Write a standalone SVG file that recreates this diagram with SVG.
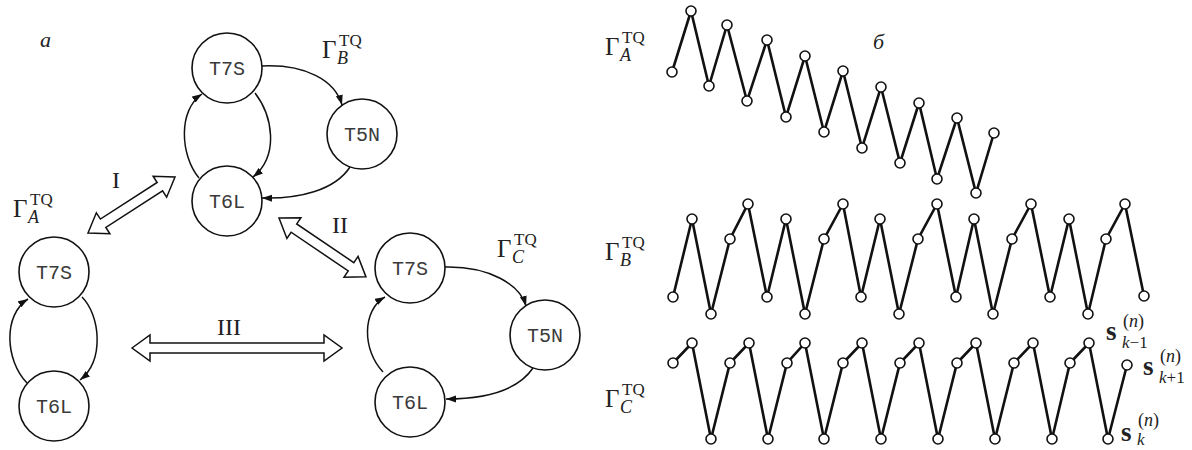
<svg xmlns="http://www.w3.org/2000/svg" width="1192" height="450" viewBox="0 0 1192 450">
<style>
.node circle{fill:#fff;stroke:#111;stroke-width:1.6}
.node text{font-family:"Liberation Mono","DejaVu Sans Mono",monospace;font-size:20px;fill:#3a3a3a;text-anchor:middle}
.edge{fill:none;stroke:#111;stroke-width:1.5;marker-end:url(#ah)}
.dbl{fill:#fff;stroke:#111;stroke-width:1.5;stroke-linejoin:miter}
.lbl{font-family:"Liberation Serif",serif;fill:#222}
.G{font-size:25px}
.sp{font-size:17px}
.sb{font-size:18px;font-style:italic}
.rn{font-family:"Liberation Serif",serif;font-size:24px;fill:#222}
.zz{fill:none;stroke:#111;stroke-width:2.6;stroke-linejoin:miter}
.pt circle{fill:#fff;stroke:#111;stroke-width:1.6}
.sv{font-family:"Liberation Serif",serif;fill:#222}
.sb2{font-size:27px;font-weight:bold}
.ss{font-size:17px}
.sn{font-size:18px}
</style>
<defs>
<marker id="ah" markerWidth="11" markerHeight="8" refX="10" refY="3.5" orient="auto" markerUnits="userSpaceOnUse">
<path d="M0,0 L10,3.5 L0,7 z" fill="#111"/>
</marker>
</defs>

<text class="lbl" x="40" y="47" font-size="22" font-style="italic">a</text>
<text class="lbl" x="873" y="49" font-size="22" font-style="italic">б</text>

<!-- Graph labels -->
<text class="lbl"><tspan class="G" x="322" y="58">Γ</tspan><tspan class="sp" x="339" y="46">TQ</tspan><tspan class="sb" x="337" y="64">B</tspan></text>
<text class="lbl"><tspan class="G" x="13" y="217">Γ</tspan><tspan class="sp" x="30" y="205">TQ</tspan><tspan class="sb" x="28" y="223">A</tspan></text>
<text class="lbl"><tspan class="G" x="497" y="257">Γ</tspan><tspan class="sp" x="514" y="245">TQ</tspan><tspan class="sb" x="512" y="263">C</tspan></text>

<text class="lbl"><tspan class="G" x="605" y="55">Γ</tspan><tspan class="sp" x="622" y="43">TQ</tspan><tspan class="sb" x="620" y="61">A</tspan></text>
<text class="lbl"><tspan class="G" x="605" y="260">Γ</tspan><tspan class="sp" x="622" y="248">TQ</tspan><tspan class="sb" x="620" y="266">B</tspan></text>
<text class="lbl"><tspan class="G" x="605" y="407">Γ</tspan><tspan class="sp" x="622" y="395">TQ</tspan><tspan class="sb" x="620" y="413">C</tspan></text>

<!-- Roman numerals -->
<text class="rn" x="112" y="188">I</text>
<text class="rn" x="332" y="233">II</text>
<text class="rn" x="217" y="335">III</text>

<!-- Nodes: graph B -->
<g id="B_T7S" class="node"><circle cx="227" cy="68" r="35"/><text x="227" y="75">T7S</text></g>
<g id="B_T5N" class="node"><circle cx="362" cy="134" r="35"/><text x="362" y="141">T5N</text></g>
<g id="B_T6L" class="node"><circle cx="227" cy="201" r="35"/><text x="227" y="208">T6L</text></g>
<!-- Nodes: graph A -->
<g id="A_T7S" class="node"><circle cx="54" cy="272" r="35"/><text x="54" y="279">T7S</text></g>
<g id="A_T6L" class="node"><circle cx="54" cy="406" r="35"/><text x="54" y="413">T6L</text></g>
<!-- Nodes: graph C -->
<g id="C_T7S" class="node"><circle cx="410" cy="268" r="35"/><text x="410" y="275">T7S</text></g>
<g id="C_T5N" class="node"><circle cx="545" cy="335" r="35"/><text x="545" y="342">T5N</text></g>
<g id="C_T6L" class="node"><circle cx="410" cy="402" r="35"/><text x="410" y="409">T6L</text></g>

<g id="connectors">
<path class="edge" d="M262,66 C305,64 335,80 342,105"/>
<path class="edge" d="M350,167 C335,190 300,199 262,198"/>
<path class="edge" d="M255,93 C272,115 280,155 253,177"/>
<path class="edge" d="M199,178 C180,155 178,110 202,94"/>

<path class="edge" d="M82,297 C100,315 105,360 80,380"/>
<path class="edge" d="M27,383 C5,360 3,315 28,299"/>

<path class="edge" d="M445,267 C490,266 520,285 526,306"/>
<path class="edge" d="M533,368 C518,390 485,399 446,399"/>
<path class="edge" d="M383,372 C362,350 362,310 385,297"/>

<polygon class="dbl" transform="translate(88,233) rotate(-32.8)" points="0,0 18,-12.5 18,-5 85.5,-5 85.5,-12.5 103.5,0 85.5,12.5 85.5,5 18,5 18,12.5"/>
<polygon class="dbl" transform="translate(279,218) rotate(34.1)" points="0,0 18,-12.5 18,-5 87,-5 87,-12.5 105,0 87,12.5 87,5 18,5 18,12.5"/>
<polygon class="dbl" transform="translate(132,348)" points="0,0 18,-13 18,-5 192,-5 192,-13 210,0 192,13 192,5 18,5 18,13"/>
</g>

<!-- Zigzag A -->
<g id="zigA">
<polyline class="zz" points="672,72 691,11 709,86 727,25 747,101 767,40 786,117 805,56 824,132 843,71 862,148 881,87 900,163 919,103 937,179 957,118 976,193 994,133"/>
<g class="pt">
<circle cx="672" cy="72" r="5"/><circle cx="691" cy="11" r="5"/><circle cx="709" cy="86" r="5"/><circle cx="727" cy="25" r="5"/><circle cx="747" cy="101" r="5"/><circle cx="767" cy="40" r="5"/><circle cx="786" cy="117" r="5"/><circle cx="805" cy="56" r="5"/><circle cx="824" cy="132" r="5"/><circle cx="843" cy="71" r="5"/><circle cx="862" cy="148" r="5"/><circle cx="881" cy="87" r="5"/><circle cx="900" cy="163" r="5"/><circle cx="919" cy="103" r="5"/><circle cx="937" cy="179" r="5"/><circle cx="957" cy="118" r="5"/><circle cx="976" cy="193" r="5"/><circle cx="994" cy="133" r="5"/>
</g>
</g>

<!-- Zigzag B -->
<g id="zigB">
<polyline class="zz" points="673,297 692,219 711,314 730,239 748,204 767,297 786,219 805,314 824,239 843,204 861,297 880,219 899,314 918,239 937,204 956,297 974,219 993,314 1012,239 1031,204 1050,297 1069,219 1088,314 1106,239 1125,204 1144,296"/>
<g class="pt">
<circle cx="673" cy="297" r="5"/><circle cx="692" cy="219" r="5"/><circle cx="711" cy="314" r="5"/><circle cx="730" cy="239" r="5"/><circle cx="748" cy="204" r="5"/>
<circle cx="767" cy="297" r="5"/><circle cx="786" cy="219" r="5"/><circle cx="805" cy="314" r="5"/><circle cx="824" cy="239" r="5"/><circle cx="843" cy="204" r="5"/>
<circle cx="861" cy="297" r="5"/><circle cx="880" cy="219" r="5"/><circle cx="899" cy="314" r="5"/><circle cx="918" cy="239" r="5"/><circle cx="937" cy="204" r="5"/>
<circle cx="956" cy="297" r="5"/><circle cx="974" cy="219" r="5"/><circle cx="993" cy="314" r="5"/><circle cx="1012" cy="239" r="5"/><circle cx="1031" cy="204" r="5"/>
<circle cx="1050" cy="297" r="5"/><circle cx="1069" cy="219" r="5"/><circle cx="1088" cy="314" r="5"/><circle cx="1106" cy="239" r="5"/><circle cx="1125" cy="204" r="5"/>
<circle cx="1144" cy="296" r="5"/>
</g>
</g>

<!-- Zigzag C -->
<g id="zigC">
<polyline class="zz" points="673,363 692,343 711,439 730,363 749,343 768,439 787,363 805,343 824,439 843,363 862,343 881,439 900,363 919,343 938,439 957,363 976,343 995,439 1014,363 1033,343 1052,439 1070,363 1089,343 1108,439 1127,365"/>
<g class="pt">
<circle cx="673" cy="363" r="5"/><circle cx="692" cy="343" r="5"/><circle cx="711" cy="439" r="5"/>
<circle cx="730" cy="363" r="5"/><circle cx="749" cy="343" r="5"/><circle cx="768" cy="439" r="5"/>
<circle cx="787" cy="363" r="5"/><circle cx="805" cy="343" r="5"/><circle cx="824" cy="439" r="5"/>
<circle cx="843" cy="363" r="5"/><circle cx="862" cy="343" r="5"/><circle cx="881" cy="439" r="5"/>
<circle cx="900" cy="363" r="5"/><circle cx="919" cy="343" r="5"/><circle cx="938" cy="439" r="5"/>
<circle cx="957" cy="363" r="5"/><circle cx="976" cy="343" r="5"/><circle cx="995" cy="439" r="5"/>
<circle cx="1014" cy="363" r="5"/><circle cx="1033" cy="343" r="5"/><circle cx="1052" cy="439" r="5"/>
<circle cx="1070" cy="363" r="5"/><circle cx="1089" cy="343" r="5"/><circle cx="1108" cy="439" r="5"/>
<circle cx="1127" cy="365" r="5"/>
</g>
</g>

<!-- s labels -->
<text class="sv"><tspan class="sb2" x="1106" y="340">s</tspan><tspan class="ss" x="1122" y="348"><tspan font-style="italic">k</tspan>−1</tspan></text>
<text class="sv sn" x="1123" y="327">(<tspan font-style="italic">n</tspan>)</text>
<text class="sv"><tspan class="sb2" x="1143" y="375">s</tspan><tspan class="ss" x="1159" y="383"><tspan font-style="italic">k</tspan>+1</tspan></text>
<text class="sv sn" x="1160" y="362">(<tspan font-style="italic">n</tspan>)</text>
<text class="sv"><tspan class="sb2" x="1121" y="441">s</tspan><tspan class="ss" x="1137" y="445" font-style="italic">k</tspan></text>
<text class="sv sn" x="1138" y="426">(<tspan font-style="italic">n</tspan>)</text>
</svg>
